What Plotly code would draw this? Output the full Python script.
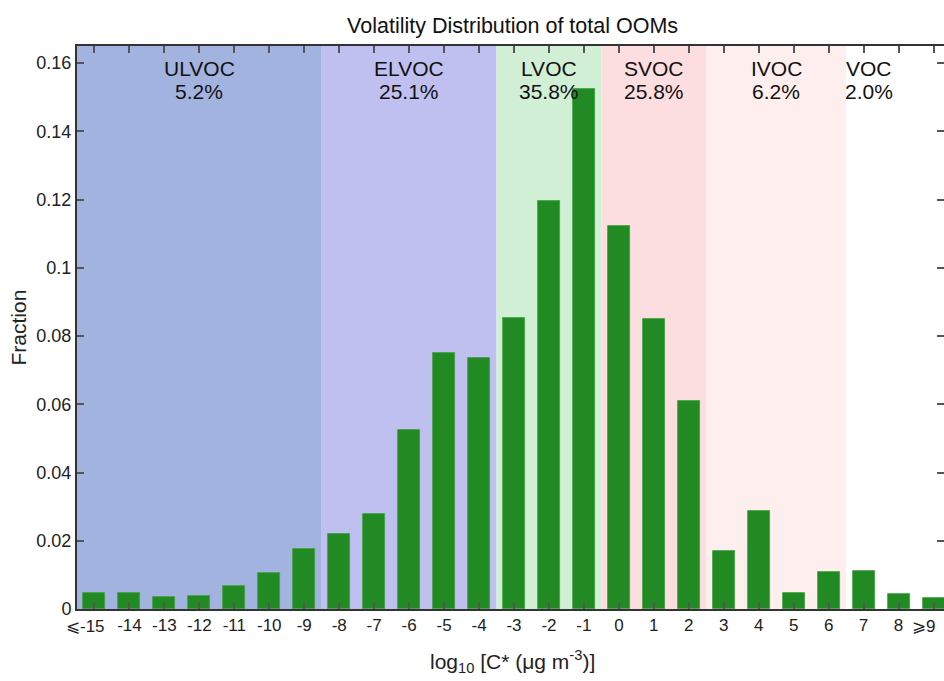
import plotly.graph_objects as go

# ---- data ----
bins = list(range(-15, 10))
tick_labels = ["⩽-15", "-14", "-13", "-12", "-11", "-10", "-9", "-8", "-7", "-6", "-5", "-4",
               "-3", "-2", "-1", "0", "1", "2", "3", "4", "5", "6", "7", "8", "⩾9"]
fraction = [0.0047, 0.0047, 0.0036, 0.0039, 0.0067, 0.0105, 0.0176,
            0.0220, 0.0277, 0.0525, 0.0750, 0.0735,
            0.0853, 0.1196, 0.1524,
            0.1122, 0.0850, 0.0610,
            0.0170, 0.0287, 0.0046, 0.0107,
            0.0111, 0.0044, 0.0031]

region_names = ["ULVOC", "ELVOC", "LVOC", "SVOC", "IVOC", "VOC"]
region_pct = ["5.2%", "25.1%", "35.8%", "25.8%", "6.2%", "2.0%"]
region_start = [-15.5, -8.5, -3.5, -0.5, 2.5, 6.5]
region_end = [-8.5, -3.5, -0.5, 2.5, 6.5, 9.5]
region_label_x = [-12, -6, -2, 1, 4.5, 7.15]
region_colors = ["#a3b3e0", "#c0c0f0", "#d1efd5", "#fddee0", "#feeeee", "#ffffff"]

y_ticks = [0, 0.02, 0.04, 0.06, 0.08, 0.10, 0.12, 0.14, 0.16]
y_tick_text = ["0", "0.02", "0.04", "0.06", "0.08", "0.1", "0.12", "0.14", "0.16"]

FONT = "Liberation Sans, Arial, Helvetica, sans-serif"

fig = go.Figure()
fig.add_trace(go.Bar(
    x=bins, y=fraction, width=0.63,
    marker=dict(color="#228a22", line=dict(color="#3f9f3f", width=0.8)),
    showlegend=False,
))

shapes = []
annotations = []
for name, pct, x0, x1, lx, col in zip(region_names, region_pct, region_start,
                                      region_end, region_label_x, region_colors):
    shapes.append(dict(type="rect", xref="x", yref="paper", x0=x0, x1=x1, y0=0, y1=1,
                       fillcolor=col, line=dict(width=0), layer="below"))
    annotations.append(dict(x=lx, y=0.1585, xref="x", yref="y", text=name,
                            showarrow=False, font=dict(family=FONT, size=21, color="#111")))
    annotations.append(dict(x=lx, y=0.1518, xref="x", yref="y", text=pct,
                            showarrow=False, font=dict(family=FONT, size=21, color="#111")))

# end tick labels (with ⩽ / ⩾ prefixes) placed as annotations so they stay inside the page
inner_ticktext = [""] + tick_labels[1:-1] + [""]
annotations.append(dict(x=bins[0] - 0.25, y=-0.0305, xref="x", yref="paper",
                        text=tick_labels[0], showarrow=False, xanchor="center", yanchor="middle",
                        font=dict(family=FONT, size=17, color="#222")))
annotations.append(dict(x=bins[-1] - 0.28, y=-0.0305, xref="x", yref="paper",
                        text=tick_labels[-1], showarrow=False, xanchor="center", yanchor="middle",
                        font=dict(family=FONT, size=17, color="#222")))

# axis titles as annotations for exact placement
annotations.append(dict(x=0.502, y=-0.094, xref="paper", yref="paper",
                        text="log<sub>10</sub> [C* (μg m<sup>-3</sup>)]", showarrow=False,
                        xanchor="center", yanchor="middle",
                        font=dict(family=FONT, size=21, color="#222")))
annotations.append(dict(x=-0.068, y=0.5, xref="paper", yref="paper", text="Fraction",
                        showarrow=False, textangle=-90, xanchor="center", yanchor="middle",
                        font=dict(family=FONT, size=21, color="#222")))

fig.update_layout(
    width=944, height=681,
    margin=dict(l=77, r=0, t=46, b=72),
    paper_bgcolor="white", plot_bgcolor="white",
    shapes=shapes, annotations=annotations,
    title=dict(text="Volatility Distribution of total OOMs", x=0.543, xanchor="center",
               y=0.962, yanchor="middle", font=dict(family=FONT, size=21.5, color="#111")),
    font=dict(family=FONT, size=17, color="#222"),
    bargap=0,
)
fig.update_xaxes(
    range=[-15.5, 9.3], tickmode="array", tickvals=bins, ticktext=inner_ticktext,
    tickangle=0, automargin=False,
    ticks="inside", ticklen=7, tickwidth=1.5, tickcolor="#555",
    showline=True, linewidth=2, linecolor="#333", mirror="ticks",
    showgrid=False, zeroline=False,
    tickfont=dict(family=FONT, size=17, color="#222"),
)
fig.update_yaxes(
    range=[0, 0.165], tickmode="array", tickvals=y_ticks, ticktext=y_tick_text,
    automargin=False,
    ticks="inside", ticklen=7, tickwidth=1.5, tickcolor="#555",
    showline=True, linewidth=2, linecolor="#333", mirror="ticks",
    showgrid=False, zeroline=False,
    tickfont=dict(family=FONT, size=18, color="#222"),
)

fig.write_html("out.html")
